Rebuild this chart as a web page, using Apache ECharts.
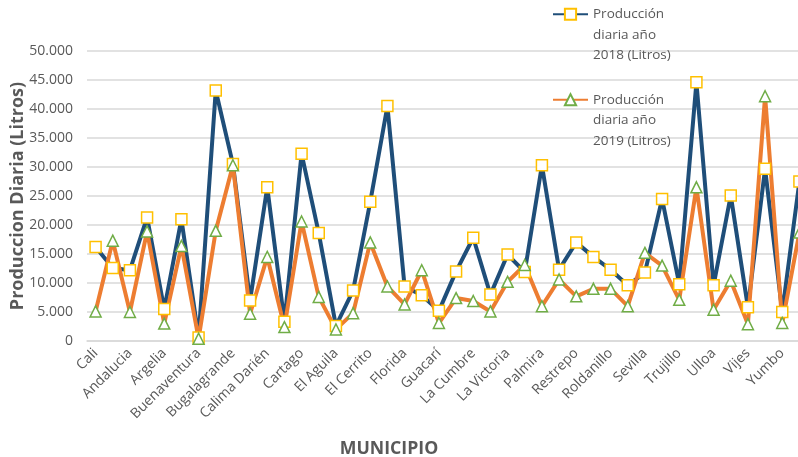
<!DOCTYPE html>
<html lang="es">
    <head>
        <meta charset="UTF-8" />
        <title>Producción diaria por municipio</title>
        <style>
            html, body { margin: 0; padding: 0; background: #fff; }
            #chart { width: 798px; height: 457px; }
        </style>
        <script src="https://cdn.jsdelivr.net/npm/echarts@6/dist/echarts.min.js"></script>
    </head>
    <body>
        <div id="chart"></div>
        <script>
            const municipios = [
                "Cali", "Alcalá", "Andalucia", "Ansermanuevo", "Argelia", "Bolívar",
                "Buenaventura", "Buga", "Bugalagrande", "Caicedonia", "Calima Darién",
                "Candelaria", "Cartago", "Dagua", "El Aguila", "El Cairo", "El Cerrito",
                "El Dovio", "Florida", "Ginebra", "Guacarí", "Jamundí", "La Cumbre",
                "La Unión", "La Victoria", "Obando", "Palmira", "Pradera", "Restrepo",
                "Riofrío", "Roldanillo", "San Pedro", "Sevilla", "Toro", "Trujillo",
                "Tuluá", "Ulloa", "Versalles", "Vijes", "Yotoco", "Yumbo", "Zarzal"
            ];
            const prod2018 = [
                16200, 12600, 12200, 21300, 5500, 21000, 600, 43200, 30500, 7000,
                26500, 3300, 32300, 18600, 2600, 8700, 24000, 40500, 9400, 7900,
                5200, 12000, 17800, 8000, 14900, 11900, 30300, 12300, 17000, 14500,
                12300, 9600, 11800, 24500, 9800, 44600, 9600, 25100, 5800, 29700,
                5000, 27500
            ];
            const prod2019 = [
                5100, 17300, 5000, 18900, 3000, 16400, 400, 19000, 30300, 4700,
                14500, 2400, 20600, 7600, 2000, 4800, 17000, 9400, 6300, 12200,
                3100, 7400, 6900, 5100, 10200, 13100, 6000, 10600, 7700, 9000,
                9000, 6000, 15200, 13000, 7100, 26500, 5400, 10400, 2900, 42200,
                3100, 18700
            ];
            const nombres = [
                "Producción\ndiaria año\n2018 (Litros)",
                "Producción\ndiaria año\n2019 (Litros)"
            ];

            const gris = "#595959";
            const fuente = "'Open Sans', sans-serif";

            const chart = echarts.init(document.getElementById("chart"));
            const option = {
                animation: false,
                textStyle: { fontFamily: fuente },
                grid: { left: 87, right: -10, top: 51, bottom: 116, outerBoundsMode: "none" },
                legend: {
                    orient: "vertical",
                    left: 547,
                    top: -42,
                    itemGap: -17,
                    itemWidth: 35,
                    itemHeight: 14,
                    data: nombres,
                    // blank lines on top so the icon sits beside the first line
                    formatter: (name) => "\n\n" + name,
                    textStyle: {
                        color: gris,
                        fontSize: 13.5,
                        lineHeight: 20.5,
                        fontFamily: fuente
                    }
                },
                xAxis: {
                    type: "category",
                    data: municipios,
                    name: "MUNICIPIO",
                    nameLocation: "middle",
                    nameGap: 99,
                    nameTextStyle: {
                        color: gris,
                        fontSize: 17.7,
                        fontWeight: "bold",
                        fontFamily: fuente,
                        padding: [0, 117, 0, 0]
                    },
                    axisLine: { lineStyle: { color: "#d9d9d9", width: 1.5 } },
                    axisTick: { show: false },
                    axisLabel: {
                        interval: 1,
                        rotate: 45,
                        margin: 10,
                        color: gris,
                        fontSize: 14,
                        fontFamily: fuente
                    }
                },
                yAxis: {
                    type: "value",
                    min: 0,
                    max: 50000,
                    interval: 5000,
                    name: "Produccion Diaria (Litros)",
                    nameLocation: "middle",
                    nameGap: 60,
                    nameMoveOverlap: false,
                    nameTextStyle: {
                        color: gris,
                        fontSize: 18,
                        fontWeight: "bold",
                        fontFamily: fuente
                    },
                    axisLine: { show: false },
                    axisTick: { show: false },
                    splitLine: { lineStyle: { color: "#d9d9d9", width: 1.5 } },
                    axisLabel: {
                        margin: 14,
                        color: gris,
                        fontSize: 14,
                        fontFamily: fuente,
                        formatter: (v) => String(v).replace(/\B(?=(\d{3})+(?!\d))/g, ".")
                    }
                },
                series: [
                    {
                        name: nombres[0],
                        type: "line",
                        data: prod2018,
                        symbol: "rect",
                        symbolSize: 11,
                        showAllSymbol: true,
                        lineStyle: { color: "#1f4e79", width: 4 },
                        itemStyle: { color: "#ffffff", borderColor: "#ffc000", borderWidth: 1.5 }
                    },
                    {
                        name: nombres[1],
                        type: "line",
                        data: prod2019,
                        symbol: "triangle",
                        symbolSize: 11,
                        showAllSymbol: true,
                        lineStyle: { color: "#ed7d31", width: 4 },
                        itemStyle: { color: "#ffffff", borderColor: "#70ad47", borderWidth: 1.5 }
                    }
                ]
            };
            chart.setOption(option);
        </script>
    </body>
</html>
